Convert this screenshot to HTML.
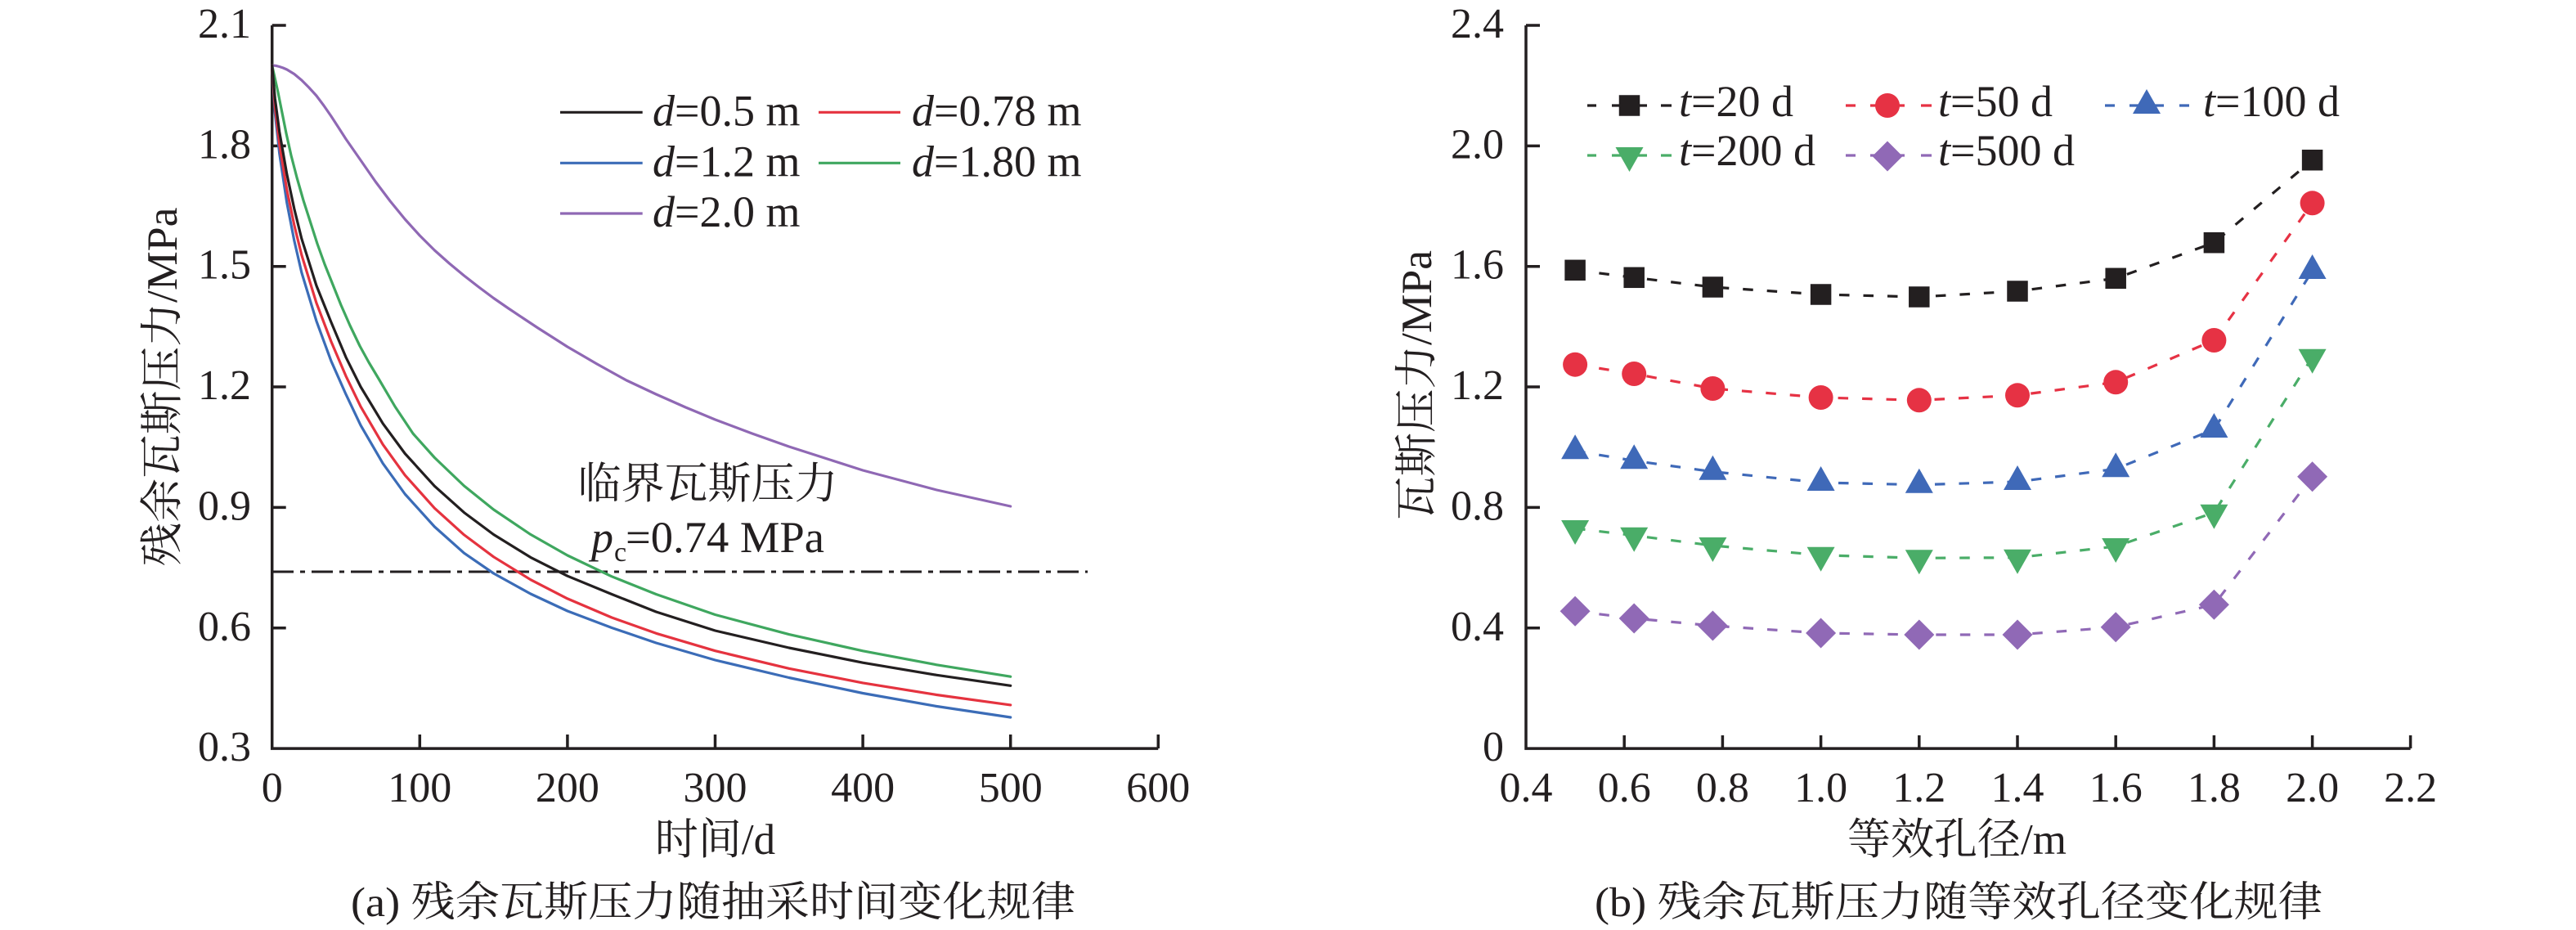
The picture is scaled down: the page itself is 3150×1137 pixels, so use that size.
<!DOCTYPE html>
<html><head><meta charset="utf-8"><style>html,body{margin:0;padding:0;background:#fff}svg{display:block}</style></head>
<body>
<svg width="3150" height="1137" viewBox="0 0 3150 1137" xmlns="http://www.w3.org/2000/svg" font-family="'Liberation Serif','Noto Serif CJK SC',serif">
<rect width="3150" height="1137" fill="#fff"/>
<defs>
<rect id="sq" x="-12.75" y="-12.75" width="25.5" height="25.5" fill="#231f20"/>
<circle id="ci" r="15" fill="#e63244"/>
<polygon id="tu" points="0,-20 17,10 -17,10" fill="#3f69b8"/>
<polygon id="td" points="-17,-10 17,-10 0,20" fill="#4aad68"/>
<polygon id="di" points="0,-18.5 18.5,0 0,18.5 -18.5,0" fill="#9069b6"/>
</defs>

<!-- ===== Chart (a) ===== -->
<g stroke="#231f20" stroke-width="3.5" fill="none">
<path d="M332.7,31 V915.1 H1416.3"/>
<path d="M332.7,31 h17 M332.7,178.35 h17 M332.7,325.7 h17 M332.7,473.05 h17 M332.7,620.4 h17 M332.7,767.75 h17"/>
<path d="M513.3,915 v-17 M693.9,915 v-17 M874.5,915 v-17 M1055.1,915 v-17 M1235.7,915 v-17 M1416.3,915 v-17"/>
</g>
<g font-size="52" fill="#231f20" text-anchor="end">
<text x="307" y="46">2.1</text>
<text x="307" y="193.35">1.8</text>
<text x="307" y="340.7">1.5</text>
<text x="307" y="488.05">1.2</text>
<text x="307" y="635.4">0.9</text>
<text x="307" y="782.75">0.6</text>
<text x="307" y="930.1">0.3</text>
</g>
<g font-size="52" fill="#231f20" text-anchor="middle">
<text x="332.7" y="980">0</text>
<text x="513.3" y="980">100</text>
<text x="693.9" y="980">200</text>
<text x="874.5" y="980">300</text>
<text x="1055.1" y="980">400</text>
<text x="1235.7" y="980">500</text>
<text x="1416.3" y="980">600</text>
</g>
<text x="874.5" y="1044" font-size="53" text-anchor="middle" fill="#231f20">时间/d</text>
<text transform="translate(216,473) rotate(-90)" font-size="53" text-anchor="middle" fill="#231f20" textLength="439" lengthAdjust="spacingAndGlyphs">残余瓦斯压力/MPa</text>
<text x="429" y="1120" font-size="51" fill="#231f20" textLength="886" lengthAdjust="spacingAndGlyphs">(a) 残余瓦斯压力随抽采时间变化规律</text>

<!-- threshold line -->
<line x1="333" y1="699" x2="1330" y2="699" stroke="#231f20" stroke-width="3" stroke-dasharray="26 8 6 8"/>
<text x="706.5" y="609" font-size="53" fill="#231f20" textLength="318" lengthAdjust="spacingAndGlyphs">临界瓦斯压力</text>
<text x="723" y="675" font-size="54" font-style="italic" fill="#231f20">p</text>
<text x="751" y="686" font-size="34" fill="#231f20">c</text>
<text x="765" y="675" font-size="54" fill="#231f20" textLength="243" lengthAdjust="spacingAndGlyphs">=0.74 MPa</text>

<!-- curves -->
<g fill="none" stroke-width="3.2" stroke-linejoin="round" stroke-linecap="round">
<polyline stroke="#8f68b4" points="332.7,80 337.2,80.3 341.7,81.5 346.2,83 350.8,85 359.8,90.5 368.8,98 377.8,107 386.9,117 395.9,129 404.9,142 414,156 423,170 441.1,196 459.1,222 477.2,246 495.2,268 513.3,288 531.4,306 549.4,322 567.5,337 585.5,351 603.6,364.5 621.7,377 639.7,389 657.8,401 675.9,412.5 693.9,424 712,434.5 730,445 748,455 766.1,465 784.2,473.5 802.3,482 820.4,490 838.4,498 856.5,505.5 874.5,513 919.7,530 964.8,546 1010,560.5 1055.1,575 1100.3,587 1145.4,599 1190.6,609 1235.7,619"/>
<polyline stroke="#3fa75f" points="332.7,80 336,95 340,113 345,138 350,163 356,190 363,217 371,245 380,273 388,298 397,323 407,348 417,373 428,398 440,423 451,443 463,463 483,497 505,530 531.4,559.5 567.5,594 603.6,623 648.8,653.4 693.9,679 748.1,704.8 802.3,726.5 874.5,751.5 964.8,775.6 1055.1,795.8 1145.4,812.8 1235.7,827.2"/>
<polyline stroke="#3b6cb7" points="332.7,80 336.3,138.1 341.7,187.5 350.8,248 359.8,294.2 368.8,333.1 386.9,392.4 404.9,441.3 423,482.1 441.1,520.1 468.2,566.6 495.2,604 531.4,644 567.5,676.2 603.6,701 648.8,726 693.9,747 748.1,767.5 802.3,786 874.5,807 964.8,828.5 1055.1,847.5 1145.4,863.5 1235.7,877"/>
<polyline stroke="#e5333f" points="332.7,80 336.3,130.4 341.7,176.2 350.8,232.2 359.8,275.1 368.8,311.6 386.9,370.3 404.9,417.5 423,459.8 441.1,497.2 468.2,543.4 495.2,580.9 531.4,621.3 567.5,653.9 603.6,680.8 648.8,708.7 693.9,731.9 748.1,755 802.3,774.3 874.5,795.7 964.8,817.3 1055.1,834.9 1145.4,849.5 1235.7,861.9"/>
<polyline stroke="#231f20" points="332.7,80 336.3,120.7 341.7,161.1 350.8,213 359.8,255.2 368.8,291.7 386.9,349.1 404.9,393.8 423,436.8 441.1,473 468.2,517.8 495.2,554.5 531.4,594.3 567.5,626.6 603.6,653.5 648.8,681.4 693.9,704.2 748.1,726.5 802.3,748 874.5,771 964.8,792 1055.1,810.2 1145.4,825.3 1235.7,838.3"/>
</g>

<!-- legend (a) -->
<g stroke-width="3.2">
<line x1="685" y1="137.3" x2="785.7" y2="137.3" stroke="#231f20"/>
<line x1="1001" y1="137.3" x2="1101" y2="137.3" stroke="#e5333f"/>
<line x1="685" y1="199.3" x2="785.7" y2="199.3" stroke="#3b6cb7"/>
<line x1="1001" y1="199.3" x2="1101" y2="199.3" stroke="#3fa75f"/>
<line x1="685" y1="261" x2="785.7" y2="261" stroke="#8f68b4"/>
</g>
<g font-size="54" fill="#231f20">
<text x="798" y="153.5"><tspan font-style="italic">d</tspan>=0.5 m</text>
<text x="1115" y="153.5"><tspan font-style="italic">d</tspan>=0.78 m</text>
<text x="798" y="215.5"><tspan font-style="italic">d</tspan>=1.2 m</text>
<text x="1115" y="215.5"><tspan font-style="italic">d</tspan>=1.80 m</text>
<text x="798" y="277"><tspan font-style="italic">d</tspan>=2.0 m</text>
</g>

<!-- ===== Chart (b) ===== -->
<g stroke="#231f20" stroke-width="3.5" fill="none">
<path d="M1866,31 V915.1 H2947.6"/>
<path d="M1866,31 h17 M1866,178.35 h17 M1866,325.7 h17 M1866,473.05 h17 M1866,620.4 h17 M1866,767.75 h17"/>
<path d="M1986.2,915 v-16 M2106.4,915 v-16 M2226.6,915 v-16 M2346.8,915 v-16 M2467,915 v-16 M2587.2,915 v-16 M2707.4,915 v-16 M2827.6,915 v-16 M2947.6,915 v-16"/>
</g>
<g font-size="52" fill="#231f20" text-anchor="end">
<text x="1839" y="46">2.4</text>
<text x="1839" y="193.35">2.0</text>
<text x="1839" y="340.7">1.6</text>
<text x="1839" y="488.05">1.2</text>
<text x="1839" y="635.4">0.8</text>
<text x="1839" y="782.75">0.4</text>
<text x="1839" y="930.1">0</text>
</g>
<g font-size="52" fill="#231f20" text-anchor="middle">
<text x="1866" y="980">0.4</text>
<text x="1986.2" y="980">0.6</text>
<text x="2106.4" y="980">0.8</text>
<text x="2226.6" y="980">1.0</text>
<text x="2346.8" y="980">1.2</text>
<text x="2467" y="980">1.4</text>
<text x="2587.2" y="980">1.6</text>
<text x="2707.4" y="980">1.8</text>
<text x="2827.6" y="980">2.0</text>
<text x="2947.6" y="980">2.2</text>
</g>
<text x="2393" y="1044" font-size="53" text-anchor="middle" fill="#231f20">等效孔径/m</text>
<text transform="translate(1750,471) rotate(-90)" font-size="53" text-anchor="middle" fill="#231f20" textLength="330" lengthAdjust="spacingAndGlyphs">瓦斯压力/MPa</text>
<text x="1950" y="1120" font-size="51" fill="#231f20" textLength="890" lengthAdjust="spacingAndGlyphs">(b) 残余瓦斯压力随等效孔径变化规律</text>

<!-- series lines -->
<g fill="none" stroke-width="3.2" stroke-dasharray="12.5 17">
<polyline stroke="#231f20" points="1926.1,330.3 1998.2,339.3 2094.4,351 2226.6,360 2346.8,363 2467,356 2587.2,340.3 2707.4,296.7 2827.6,195.7"/>
<polyline stroke="#e63244" points="1926.1,445.7 1998.2,457 2094.4,475 2226.6,486 2346.8,489.3 2467,483.3 2587.2,467.3 2707.4,416 2827.6,248.3"/>
<polyline stroke="#3f69b8" points="1926.1,551.3 1998.2,563.3 2094.4,576.7 2226.6,590 2346.8,592.7 2467,589 2587.2,573.3 2707.4,525 2827.6,331"/>
<polyline stroke="#4aad68" points="1926.1,646 1998.2,654.7 2094.4,667 2226.6,678.7 2346.8,682.3 2467,681.7 2587.2,668 2707.4,626.7 2827.6,436.7"/>
<polyline stroke="#9069b6" points="1926.1,747.3 1998.2,756 2094.4,765 2226.6,774 2346.8,776 2467,776 2587.2,766.7 2707.4,739.3 2827.6,582.7"/>
</g>
<!-- markers -->
<use href="#sq" x="1926.1" y="330.3"/><use href="#sq" x="1998.2" y="339.3"/><use href="#sq" x="2094.4" y="351"/><use href="#sq" x="2226.6" y="360"/><use href="#sq" x="2346.8" y="363"/><use href="#sq" x="2467" y="356"/><use href="#sq" x="2587.2" y="340.3"/><use href="#sq" x="2707.4" y="296.7"/><use href="#sq" x="2827.6" y="195.7"/>
<use href="#ci" x="1926.1" y="445.7"/><use href="#ci" x="1998.2" y="457"/><use href="#ci" x="2094.4" y="475"/><use href="#ci" x="2226.6" y="486"/><use href="#ci" x="2346.8" y="489.3"/><use href="#ci" x="2467" y="483.3"/><use href="#ci" x="2587.2" y="467.3"/><use href="#ci" x="2707.4" y="416"/><use href="#ci" x="2827.6" y="248.3"/>
<use href="#tu" x="1926.1" y="551.3"/><use href="#tu" x="1998.2" y="563.3"/><use href="#tu" x="2094.4" y="576.7"/><use href="#tu" x="2226.6" y="590"/><use href="#tu" x="2346.8" y="592.7"/><use href="#tu" x="2467" y="589"/><use href="#tu" x="2587.2" y="573.3"/><use href="#tu" x="2707.4" y="525"/><use href="#tu" x="2827.6" y="331"/>
<use href="#td" x="1926.1" y="646"/><use href="#td" x="1998.2" y="654.7"/><use href="#td" x="2094.4" y="667"/><use href="#td" x="2226.6" y="678.7"/><use href="#td" x="2346.8" y="682.3"/><use href="#td" x="2467" y="681.7"/><use href="#td" x="2587.2" y="668"/><use href="#td" x="2707.4" y="626.7"/><use href="#td" x="2827.6" y="436.7"/>
<use href="#di" x="1926.1" y="747.3"/><use href="#di" x="1998.2" y="756"/><use href="#di" x="2094.4" y="765"/><use href="#di" x="2226.6" y="774"/><use href="#di" x="2346.8" y="776"/><use href="#di" x="2467" y="776"/><use href="#di" x="2587.2" y="766.7"/><use href="#di" x="2707.4" y="739.3"/><use href="#di" x="2827.6" y="582.7"/>

<!-- legend (b) -->
<g stroke-width="3.2">
<path stroke="#231f20" d="M1941,129 H1952 M1971,129 H2014 M2031,129 H2044"/>
<path stroke="#e63244" d="M2257,129 H2269 M2287,129 H2329 M2349,129 H2362"/>
<path stroke="#3f69b8" d="M2574,129 H2586 M2604,129 H2646 M2665,129 H2677"/>
<path stroke="#4aad68" d="M1941,190 H1952 M1971,190 H2014 M2031,190 H2044"/>
<path stroke="#9069b6" d="M2257,190 H2269 M2287,190 H2329 M2349,190 H2362"/>
</g>
<use href="#sq" x="1992.5" y="129"/>
<use href="#ci" x="2308" y="129"/>
<use href="#tu" x="2625" y="129"/>
<use href="#td" x="1992.5" y="190"/>
<use href="#di" x="2308" y="191"/>
<g font-size="54" fill="#231f20">
<text x="2053" y="142"><tspan font-style="italic">t</tspan>=20 d</text>
<text x="2370" y="142"><tspan font-style="italic">t</tspan>=50 d</text>
<text x="2694" y="142"><tspan font-style="italic">t</tspan>=100 d</text>
<text x="2053" y="202"><tspan font-style="italic">t</tspan>=200 d</text>
<text x="2370" y="202"><tspan font-style="italic">t</tspan>=500 d</text>
</g>
</svg>
</body></html>
